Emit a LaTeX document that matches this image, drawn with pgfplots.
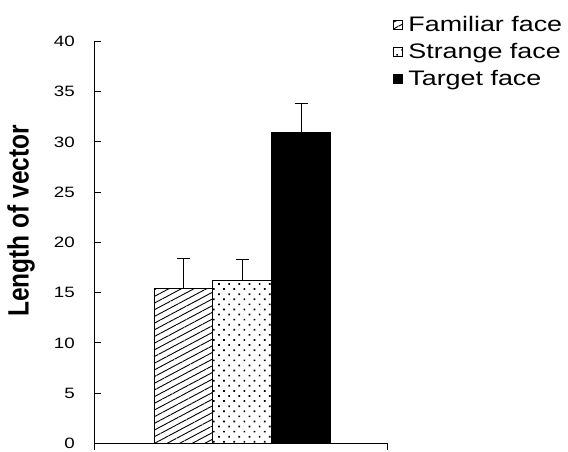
\documentclass[border=0pt]{standalone}
\usepackage{pgfplots}
\pgfplotsset{compat=1.18}
\usepackage{fontspec}
\setmainfont{Liberation Sans}
\usetikzlibrary{patterns.meta}
\begin{document}
\begin{tikzpicture}[x=1pt,y=1pt]
\useasboundingbox (0,0) rectangle (568,452);
\begin{axis}[
  at={(95pt,8.6pt)}, anchor=origin,
  scale only axis, width=292pt, height=402pt,
  xmin=0, xmax=292, ymin=0, ymax=40,
  axis x line*=bottom, axis y line*=left,
  axis line style={line width=1pt},
  every tick/.style={line width=1pt, black},
  tick align=inside, major tick length=6.5pt,
  xtick={0,292}, xticklabels={},
  ytick={0,5,...,40},
  /pgf/number format/assume math mode=true,
  yticklabel={\scalebox{1.25}[1]{\pgfmathprintnumber{\tick}}},
  yticklabel style={font=\fontsize{15}{17}\selectfont, anchor=east, inner sep=0pt, xshift=-20pt},
  ybar, bar width=59, bar shift=0pt,
  clip=false,
  legend style={draw=none, fill=none, at={(rel axis cs:1.0205,1.0625)}, anchor=north west,
    font=\fontsize{21}{24}\selectfont, inner sep=0pt, outer sep=0pt, row sep=7.3pt, column sep=0pt,
    nodes={inner sep=0pt, outer sep=0pt, text height=15pt, text depth=5pt},
    cells={anchor=west}},
  legend image code/.code={\draw[#1, line width=0.8pt] (0.4pt,-3pt) rectangle (9pt,6pt);},
  error bars/y dir=plus, error bars/y explicit,
  error bars/error bar style={line width=1pt, black},
  error bars/error mark options={rotate=90, mark size=6.5pt, line width=1pt, black},
]
\addplot[draw=black, line width=1pt, fill=white, postaction={pattern={Lines[angle=28,distance=5.9pt,line width=0.9pt]}}]
  coordinates {(88.5,15.4) +- (0,3.0)};
\addlegendentry{\hspace{6pt}\scalebox{1.28}[1]{Familiar face}}
\addplot[draw=black, line width=1pt, fill=white, postaction={pattern={Dots[angle=45,distance=7.2pt,radius=1.2pt]}}]
  coordinates {(147,16.2) +- (0,2.1)};
\addlegendentry{\hspace{6pt}\scalebox{1.28}[1]{Strange face}}
\addplot[draw=black, line width=1pt, fill=black]
  coordinates {(206,30.9) +- (0,2.9)};
\addlegendentry{\hspace{6pt}\scalebox{1.28}[1]{Target face}}
\end{axis}
\node[rotate=90, font=\bfseries\fontsize{24.5}{28}\selectfont, inner sep=0pt] at (21,231) {\scalebox{1}[1.2]{Length of vector}};
\end{tikzpicture}
\end{document}
